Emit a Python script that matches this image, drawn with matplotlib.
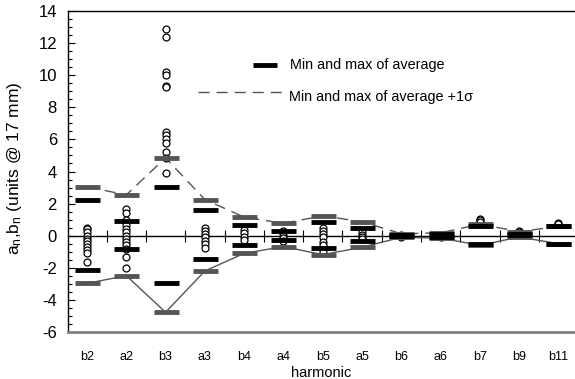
import matplotlib
matplotlib.use("Agg")
import matplotlib.pyplot as plt
import numpy as np

plt.rcParams['font.family'] = ['Liberation Sans', 'DejaVu Sans']
plt.rcParams['axes.unicode_minus'] = False
plt.rcParams['mathtext.default'] = 'regular'

# harmonics on the x axis
harmonics = ['b2', 'a2', 'b3', 'a3', 'b4', 'a4', 'b5', 'a5', 'b6', 'a6', 'b7', 'b9', 'b11']

# min and max of average
avg_max = [2.22, 0.93, 3.05, 1.58, 0.67, 0.30, 0.87, 0.48, 0.05, 0.08, 0.62, 0.12, 0.60]
avg_min = [-2.14, -0.85, -2.97, -1.43, -0.56, -0.27, -0.79, -0.33, -0.04, -0.05, -0.52, 0.02, -0.50]

# min and max of average +1 sigma
sig_max = [3.05, 2.54, 4.85, 2.25, 1.16, 0.77, 1.24, 0.87, 0.12, 0.18, 0.72, 0.25, 0.58]
sig_min = [-2.97, -2.49, -4.77, -2.20, -1.10, -0.68, -1.18, -0.72, -0.10, -0.15, -0.60, -0.08, -0.50]

# individual measurements (index of harmonic, value)
points = {
    0: [0.5, 0.4, 0.2, 0.0, -0.2, -0.3, -0.5, -0.7, -0.9, -1.05, -1.62],
    1: [1.64, 1.43, 1.0, 0.65, 0.42, 0.2, 0.0, -0.2, -0.4, -0.6, -0.85, -1.3, -2.0],
    2: [12.88, 12.4, 10.2, 10.0, 9.33, 9.25, 6.48, 6.27, 6.0, 5.76, 5.2, 4.82, 3.89],
    3: [0.5, 0.3, 0.1, -0.1, -0.3, -0.5, -0.79],
    4: [0.35, 0.15, -0.05, -0.27],
    5: [0.3, 0.15, 0.0, -0.15, -0.3],
    6: [0.5, 0.3, 0.1, -0.1, -0.37, -0.6, -1.0],
    7: [0.2, 0.05, -0.1, -0.2],
    8: [0.05, -0.05],
    9: [0.05, -0.05],
    10: [1.05, 0.95, 0.85],
    11: [0.3, 0.2],
    12: [0.8, 0.72],
}

x = np.arange(len(harmonics))
gray = '#555555'

fig = plt.figure(figsize=(5.75, 3.79), dpi=100)
ax = fig.add_axes([68 / 575, 1 - 332 / 379, 1 - 68 / 575, 321 / 379])

# measurement circles
for i, vals in points.items():
    ax.plot([i] * len(vals), vals, ls='none', marker='o', ms=5, mfc='white',
            mec='black', mew=0.9, zorder=2)

# sigma envelope lines
ax.plot(x, sig_max, color=gray, lw=1, dashes=(8, 5), zorder=1)
ax.plot(x, sig_min, color=gray, lw=1, zorder=1)

# bars
ax.plot(x, sig_max, ls='none', marker='_', ms=18, mew=3.5, color=gray, zorder=3)
ax.plot(x, sig_min, ls='none', marker='_', ms=18, mew=3.5, color=gray, zorder=3)
ax.plot(x, avg_max, ls='none', marker='_', ms=18, mew=3.5, color='black', zorder=4)
ax.plot(x, avg_min, ls='none', marker='_', ms=18, mew=3.5, color='black', zorder=4)

ax.set_xlim(-0.483, 12.42)
ax.set_ylim(-6, 14)

# axes styling
ax.spines['right'].set_visible(False)
ax.spines['bottom'].set_color('#808080')
ax.spines['bottom'].set_linewidth(2)
ax.spines['left'].set_linewidth(1)
ax.spines['top'].set_linewidth(1)

ax.set_xticks(x)
ax.set_xticklabels(harmonics, fontsize=9)
ax.tick_params(axis='x', length=0, pad=13.5)

ax.set_yticks(np.arange(-6, 15, 2))
ax.set_yticks(np.arange(-6, 14.1, 0.5), minor=True)
ax.tick_params(axis='y', which='major', direction='in', length=5, width=0.8, labelsize=12, pad=8)
ax.tick_params(axis='y', which='minor', direction='in', length=3, width=0.8)

# zero line with ticks between harmonics
zero = ax.secondary_xaxis((0 - (-6)) / 20)
zero.set_xticks(x[:-1] + 0.5)
zero.tick_params(direction='inout', length=8, width=0.8, labelbottom=False, labeltop=False)
zero.spines['bottom'].set_linewidth(1)
zero.spines['bottom'].set_color('black')
zero.spines['top'].set_visible(False)

ax.set_xlabel('harmonic', fontsize=10.5)
ax.xaxis.set_label_coords(0.5, -34 / 321)
ax.set_ylabel('a$_n$,b$_n$ (units @ 17 mm)', fontsize=12.5)
ax.yaxis.set_label_coords(-44 / 507, 0.51)

# hand-placed legend
ax.plot([(253 - 68) / 507, (277 - 68) / 507], [(332 - 65) / 321] * 2, color='black',
        lw=3.5, transform=ax.transAxes, solid_capstyle='butt')
ax.text((290 - 68) / 507, (332 - 65) / 321, 'Min and max of average', fontsize=10.4,
        va='center', transform=ax.transAxes)
ax.plot([(198 - 68) / 507, (287 - 68) / 507], [(332 - 92) / 321] * 2, color=gray,
        lw=1, dashes=(8, 5), transform=ax.transAxes)
ax.text((289 - 68) / 507, (332 - 97) / 321, 'Min and max of average +1σ', fontsize=10.4,
        va='center', transform=ax.transAxes)

fig.savefig('out.png', dpi=100)
